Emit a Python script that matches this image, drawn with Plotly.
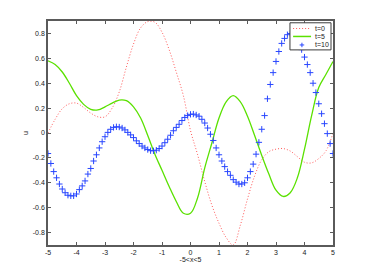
import plotly.graph_objects as go

# ---- data ----
x_coarse = [round(-5 + 0.25 * i, 2) for i in range(41)]
u_t0 = [0.00, 0.11, 0.195, 0.235, 0.24, 0.205, 0.16, 0.13, 0.13, 0.20,
        0.33, 0.53, 0.715, 0.845, 0.895, 0.89, 0.81, 0.67, 0.49, 0.30,
        0.02, -0.175, -0.39, -0.58, -0.725, -0.84, -0.9, -0.74, -0.53, -0.345,
        -0.215, -0.15, -0.13, -0.125, -0.145, -0.19, -0.235, -0.24, -0.205, -0.145,
        0.0]
u_t5 = [0.58, 0.55, 0.49, 0.40, 0.30, 0.23, 0.19, 0.185, 0.21, 0.24,
        0.265, 0.26, 0.21, 0.12, -0.02, -0.17, -0.30, -0.43, -0.55, -0.645,
        -0.645, -0.52, -0.28, -0.08, 0.12, 0.25, 0.30, 0.25, 0.135, -0.02,
        -0.18, -0.33, -0.46, -0.51, -0.48, -0.36, -0.13, 0.14, 0.365, 0.47,
        0.575]

x_fine = [round(-5 + 0.1 * i, 1) for i in range(101)]
u_t10 = [-0.165, -0.245, -0.31, -0.36, -0.41, -0.45, -0.48, -0.50, -0.505, -0.505,
         -0.49, -0.455, -0.425, -0.385, -0.33, -0.285, -0.225, -0.175, -0.12, -0.07,
         -0.03, 0.005, 0.03, 0.045, 0.05, 0.048, 0.04, 0.025, 0.005, -0.015,
         -0.037, -0.063, -0.085, -0.105, -0.12, -0.133, -0.142, -0.143, -0.138, -0.125,
         -0.105, -0.078, -0.05, -0.018, 0.018, 0.045, 0.07, 0.10, 0.125, 0.14,
         0.15, 0.152, 0.145, 0.135, 0.11, 0.08, 0.04, -0.01, -0.06, -0.12,
         -0.175, -0.225, -0.27, -0.31, -0.34, -0.375, -0.395, -0.41, -0.41, -0.40,
         -0.36, -0.31, -0.25, -0.17, -0.075, 0.03, 0.14, 0.275, 0.39, 0.485,
         0.575, 0.655, 0.72, 0.76, 0.79, 0.80, 0.79, 0.76, 0.72, 0.67,
         0.61, 0.55, 0.485, 0.40, 0.325, 0.235, 0.155, 0.075, -0.005, -0.085,
         -0.165]

series_names = ["t=0", "t=5", "t=10"]
x_tickvals = [-5, -4, -3, -2, -1, 0, 1, 2, 3, 4, 5]
x_ticktext = ["-5", "-4", "-3", "-2", "-1", "0", "1", "2", "3", "4", "5"]
y_tickvals = [-0.8, -0.6, -0.4, -0.2, 0, 0.2, 0.4, 0.6, 0.8]
y_ticktext = ["-0.8", "-0.6", "-0.4", "-0.2", "0", "0.2", "0.4", "0.6", "0.8"]
x_title = "-5<x<5"
y_title = "u"

RED = "rgb(255,90,90)"
GREEN = "rgb(90,225,0)"
BLUE = "rgb(40,70,255)"
FONT = "Liberation Sans, Arial, sans-serif"

fig = go.Figure()
fig.add_trace(go.Scatter(x=x_coarse, y=u_t0, mode="lines", name=series_names[0],
                         line=dict(color=RED, width=1, dash="1px,2px", shape="spline"),
                         showlegend=False))
fig.add_trace(go.Scatter(x=x_coarse, y=u_t5, mode="lines", name=series_names[1],
                         line=dict(color=GREEN, width=1.3, shape="spline"),
                         showlegend=False))
fig.add_trace(go.Scatter(x=x_fine, y=u_t10, mode="markers", name=series_names[2],
                         marker=dict(symbol="cross-thin", size=4.5,
                                     line=dict(color=BLUE, width=1)),
                         showlegend=False))

axis_common = dict(showgrid=False, zeroline=False, showline=True, mirror="ticks",
                   linecolor="rgb(90,90,90)", linewidth=1.5, ticks="inside",
                   ticklen=3, tickwidth=1, tickcolor="rgb(90,90,90)",
                   tickfont=dict(family=FONT, size=7, color="#222"))

fig.update_xaxes(range=[-5, 5], tickmode="array", tickvals=x_tickvals, ticktext=x_ticktext,
                 title=dict(text=x_title, font=dict(family=FONT, size=7, color="#222"), standoff=2),
                 **axis_common)
fig.update_yaxes(range=[-0.9, 0.9], tickmode="array", tickvals=y_tickvals, ticktext=y_ticktext,
                 title=dict(text=y_title, font=dict(family=FONT, size=7, color="#222"), standoff=3),
                 **axis_common)

# ---- legend box (drawn by hand, MATLAB style compact key) ----
lx0, lx1, ly0, ly1 = 0.849, 0.993, 0.871, 0.992
rows = [0.9665, 0.931, 0.893]
samp0, samp1, samp_mid, text_x = 0.860, 0.923, 0.891, 0.930
shapes = [dict(type="rect", xref="paper", yref="paper", x0=lx0, x1=lx1, y0=ly0, y1=ly1,
               fillcolor="white", line=dict(color="rgb(60,60,60)", width=1), layer="above"),
          dict(type="line", xref="paper", yref="paper", x0=samp0, x1=samp1, y0=rows[0], y1=rows[0],
               line=dict(color=RED, width=1, dash="1px,2px")),
          dict(type="line", xref="paper", yref="paper", x0=samp0, x1=samp1, y0=rows[1], y1=rows[1],
               line=dict(color=GREEN, width=1.5)),
          dict(type="line", xref="paper", yref="paper", x0=samp_mid - 0.008, x1=samp_mid + 0.008,
               y0=rows[2], y1=rows[2], line=dict(color=BLUE, width=1)),
          dict(type="line", xref="paper", yref="paper", x0=samp_mid, x1=samp_mid,
               y0=rows[2] - 0.01, y1=rows[2] + 0.01, line=dict(color=BLUE, width=1))]
annotations = [dict(x=text_x, y=r, xref="paper", yref="paper", text=n, showarrow=False,
                    xanchor="left", yanchor="middle", font=dict(family=FONT, size=7, color="#222"))
               for r, n in zip(rows, series_names)]

# the page body has an 8px margin, so the figure is sized to fit the 369x276 window
fig.update_layout(width=361, height=268, margin=dict(l=40, r=36, t=13, b=31),
                  paper_bgcolor="white", plot_bgcolor="white", showlegend=False,
                  shapes=shapes, annotations=annotations,
                  font=dict(family=FONT, size=7, color="#222"))

fig.write_html("out.html")
